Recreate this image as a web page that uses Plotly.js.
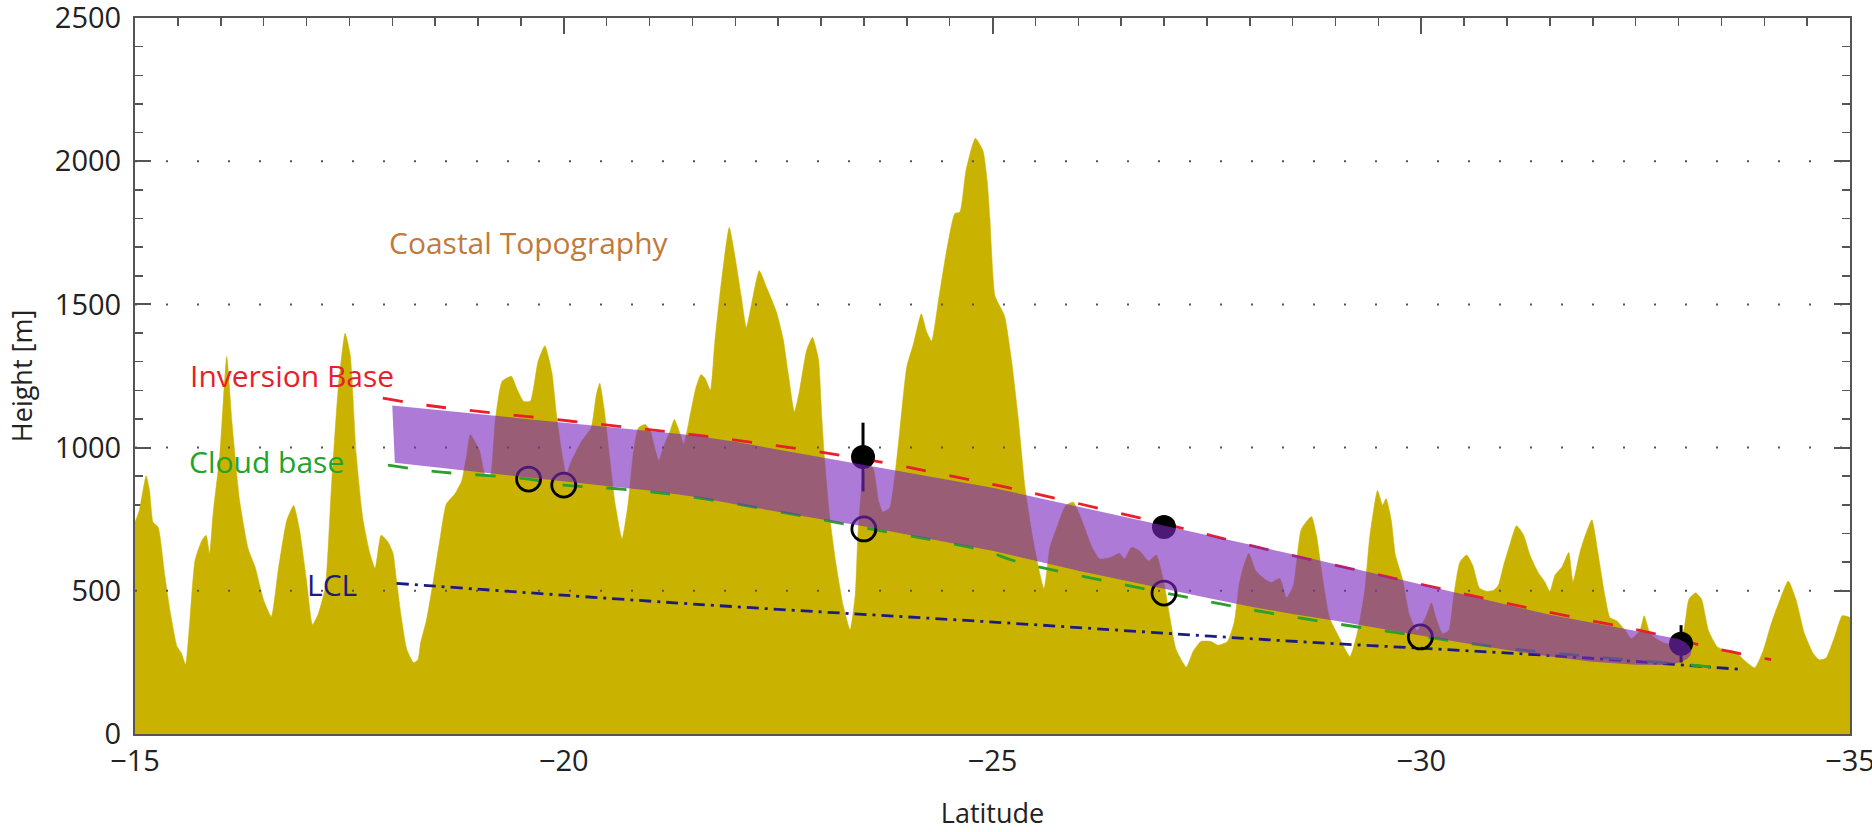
<!DOCTYPE html>
<html>
<head>
<meta charset="utf-8">
<script src="https://cdn.plot.ly/plotly-3.0.1.min.js"></script>
<style>html,body{margin:0;padding:0;background:#fff;}#chart{width:1872px;height:832px;}</style>
</head>
<body>
<div id="chart"></div>
<script>
// Coastal topography profile (latitude, height in m)
const topoLat = [-15.00,-15.05,-15.13,-15.17,-15.21,-15.27,-15.35,-15.41,-15.49,-15.54,-15.59,-15.64,-15.70,-15.78,-15.83,-15.87,-15.91,-15.99,-16.07,-16.13,-16.22,-16.32,-16.40,-16.50,-16.59,-16.67,-16.77,-16.85,-16.92,-17.00,-17.07,-17.14,-17.22,-17.29,-17.37,-17.45,-17.51,-17.58,-17.66,-17.74,-17.80,-17.87,-17.95,-18.01,-18.05,-18.11,-18.17,-18.25,-18.30,-18.33,-18.40,-18.48,-18.56,-18.63,-18.73,-18.81,-18.87,-18.91,-18.96,-19.02,-19.08,-19.14,-19.20,-19.28,-19.39,-19.45,-19.53,-19.61,-19.70,-19.78,-19.86,-19.92,-19.98,-20.03,-20.09,-20.21,-20.32,-20.38,-20.42,-20.47,-20.54,-20.60,-20.68,-20.75,-20.81,-20.87,-20.95,-21.01,-21.07,-21.11,-21.16,-21.24,-21.29,-21.36,-21.40,-21.46,-21.54,-21.60,-21.65,-21.71,-21.76,-21.84,-21.93,-21.99,-22.07,-22.13,-22.19,-22.28,-22.37,-22.48,-22.56,-22.62,-22.69,-22.75,-22.83,-22.90,-22.97,-23.01,-23.04,-23.10,-23.18,-23.26,-23.34,-23.40,-23.43,-23.49,-23.55,-23.61,-23.67,-23.72,-23.80,-23.86,-23.92,-24.00,-24.08,-24.17,-24.23,-24.29,-24.37,-24.46,-24.56,-24.62,-24.69,-24.80,-24.89,-24.94,-24.97,-25.03,-25.14,-25.22,-25.30,-25.38,-25.48,-25.60,-25.67,-25.75,-25.85,-25.94,-26.04,-26.16,-26.25,-26.39,-26.48,-26.54,-26.62,-26.72,-26.82,-26.91,-26.99,-27.07,-27.14,-27.26,-27.34,-27.43,-27.55,-27.63,-27.74,-27.82,-27.88,-27.94,-27.99,-28.07,-28.17,-28.25,-28.35,-28.43,-28.51,-28.60,-28.72,-28.78,-28.85,-28.93,-29.04,-29.17,-29.26,-29.34,-29.40,-29.49,-29.55,-29.59,-29.65,-29.70,-29.78,-29.86,-29.95,-30.05,-30.12,-30.17,-30.25,-30.32,-30.38,-30.45,-30.53,-30.60,-30.68,-30.77,-30.85,-30.90,-30.96,-31.04,-31.11,-31.19,-31.27,-31.36,-31.44,-31.50,-31.56,-31.64,-31.72,-31.77,-31.85,-31.91,-31.99,-32.06,-32.14,-32.20,-32.28,-32.38,-32.45,-32.55,-32.60,-32.67,-32.77,-32.85,-32.96,-33.06,-33.12,-33.20,-33.27,-33.35,-33.45,-33.54,-33.66,-33.76,-33.89,-33.99,-34.08,-34.16,-34.28,-34.37,-34.47,-34.57,-34.64,-34.72,-34.82,-34.91,-35.00];
const topoHeight = [740,780,902,850,740,722,549,428,306,283,243,399,607,676,694,630,769,977,1318,1092,815,647,584,468,410,572,746,798,711,537,382,422,514,861,1208,1399,1324,977,746,630,578,694,671,630,537,399,295,249,260,318,399,537,688,803,838,884,977,1046,1023,988,907,896,1092,1231,1249,1208,1162,1162,1301,1356,1266,1104,977,907,954,1023,1069,1185,1225,1139,954,803,682,803,977,1069,1081,1058,988,954,1000,1058,1098,1046,1012,1092,1208,1255,1241,1200,1364,1584,1769,1680,1529,1419,1501,1618,1556,1474,1378,1255,1125,1200,1337,1385,1310,1104,967,762,584,447,364,488,693,899,940,926,816,775,789,899,1063,1282,1364,1467,1406,1371,1515,1680,1817,1823,1967,2080,2036,1926,1800,1529,1460,1310,1104,858,666,508,652,721,796,810,748,652,611,618,631,611,652,638,604,625,542,406,296,234,289,323,323,310,323,392,529,597,631,570,542,529,543,475,520,714,759,691,543,407,339,271,361,498,691,850,799,822,748,623,543,418,361,407,458,407,350,361,486,600,625,589,509,498,503,520,589,668,727,697,623,566,532,498,555,583,634,532,634,691,748,634,486,407,395,361,333,361,413,350,327,316,316,361,470,493,470,361,305,293,288,259,231,293,384,450,534,470,350,282,259,265,339,413,407];

// Inversion base (red dashed)
const invLat = [-17.89,-18.42,-20.09,-21.65,-23.50,-24.78,-25.22,-27.00,-28.29,-29.86,-31.33,-32.73,-33.40,-34.08];
const invHeight = [1173,1147,1092,1040,960,885,858,734,638,532,435,350,300,260];

// Cloud base (green dashed)
const cbLat = [-17.95,-18.48,-19.59,-20.01,-20.67,-21.62,-23.49,-24.93,-25.26,-26.99,-28.30,-29.98,-31.00,-32.00,-33.10,-33.65];
const cbHeight = [939,917,890,869,855,822,721,638,604,494,419,342,299,270,242,226];

// Lifting condensation level (blue dash-dot)
const lclLat = [-18.05,-21.60,-24.94,-28.27,-31.60,-33.70];
const lclHeight = [526,452,392,328,272,226];

// Cloud layer band: upper edge west->east, rounded tip, lower edge back
const bandLat = [-18.00,-18.50,-19.00,-19.50,-20.00,-20.50,-21.00,-21.50,-22.00,-22.50,-23.00,-23.50,-24.00,-24.50,-25.00,-25.50,-26.00,-26.50,-27.00,-27.50,-28.00,-28.50,-29.00,-29.50,-30.00,-30.50,-31.00,-31.50,-32.00,-32.50,-32.80,-33.00,-33.08,-33.13,-33.15,-33.14,-33.10,-33.04,-32.95,-32.80,-32.50,-32.00,-31.50,-31.00,-30.50,-30.00,-29.50,-29.00,-28.50,-28.00,-27.50,-27.00,-26.50,-26.00,-25.50,-25.00,-24.50,-24.00,-23.50,-23.00,-22.50,-22.00,-21.50,-21.00,-20.50,-20.00,-19.50,-19.00,-18.50,-18.03,-18.00];
const bandHeight = [1147,1133,1117,1102,1087,1073,1058,1043,1020,993,967,940,913,887,860,827,794,762,729,696,663,628,593,557,522,486,451,416,388,362,345,332,320,305,290,275,262,252,245,241,242,252,271,293,318,344,370,395,419,445,476,507,538,570,605,640,668,697,725,750,775,802,829,850,866,882,898,914,930,947,1147];

// Observations: inversion base (filled, with error bars) and cloud base (open)
const invObsLat = [-23.49,-27.00,-33.03];
const invObsHeight = [967,723,315];
const invObsErr = [120,0,65];
const cbObsLat = [-19.59,-20.00,-23.50,-27.00,-29.99];
const cbObsHeight = [890,869,716,492,339];

// Axis ticks / grid
const gridHeights = [500,1000,1500,2000];
const xTicks = [-15,-20,-25,-30,-35];
const yTicks = [0,500,1000,1500,2000,2500];

const FONT = '"Open Sans", "Noto Sans", sans-serif';
const traces = [];

traces.push({x: topoLat, y: topoHeight, type: 'scatter', mode: 'lines', fill: 'tozeroy',
  fillcolor: '#CAB300', line: {color: '#CAB300', width: 0.5, shape: 'spline', smoothing: 0.5}, hoverinfo: 'skip', showlegend: false});

gridHeights.forEach(h => traces.push({x: [-15, -35], y: [h, h], type: 'scatter', mode: 'lines',
  line: {color: '#555', width: 2, dash: '2px,29px'}, hoverinfo: 'skip', showlegend: false}));

traces.push({x: lclLat, y: lclHeight, type: 'scatter', mode: 'lines', line: {color: '#1c1c80', width: 2.8, dash: '12px,6px,3px,6px', shape: 'spline'}, hoverinfo: 'skip', showlegend: false});
traces.push({x: cbLat, y: cbHeight, type: 'scatter', mode: 'lines', line: {color: '#2ca02c', width: 2.8, dash: '20px,24px', shape: 'spline'}, hoverinfo: 'skip', showlegend: false});
traces.push({x: invLat, y: invHeight, type: 'scatter', mode: 'lines', line: {color: '#e8202a', width: 2.8, dash: '20px,24px', shape: 'spline'}, hoverinfo: 'skip', showlegend: false});

traces.push({x: invObsLat, y: invObsHeight, type: 'scatter', mode: 'markers',
  marker: {symbol: 'circle', size: 24, color: '#000'},
  error_y: {type: 'data', array: invObsErr, visible: true, color: '#000', thickness: 3, width: 0},
  hoverinfo: 'skip', showlegend: false});
traces.push({x: cbObsLat, y: cbObsHeight, type: 'scatter', mode: 'markers',
  marker: {symbol: 'circle-open', size: 24, color: '#000', line: {width: 2.8, color: '#000'}},
  hoverinfo: 'skip', showlegend: false});

traces.push({x: bandLat, y: bandHeight, type: 'scatter', mode: 'lines', fill: 'toself',
  fillcolor: 'rgba(125,40,190,0.62)', line: {width: 0},
  hoverinfo: 'skip', showlegend: false});

const annFont = (c) => ({family: FONT, size: 30, color: c});
const layout = {
  width: 1872, height: 832,
  margin: {l: 135, r: 22, t: 18, b: 98},
  paper_bgcolor: '#fff', plot_bgcolor: '#fff',
  showlegend: false,
  font: {family: FONT, color: '#222'},
  xaxis: {
    range: [-15, -35], autorange: false,
    tickvals: xTicks, ticktext: xTicks.map(v => '\u2212' + Math.abs(v)),
    ticks: 'inside', ticklen: 16, tickwidth: 2, tickcolor: '#555',
    minor: {dtick: 0.5, tick0: -15, ticks: 'inside', ticklen: 8, tickwidth: 1.5, tickcolor: '#555', showgrid: false},
    showline: true, linecolor: '#555', linewidth: 2, mirror: 'allticks',
    showgrid: false, zeroline: false, layer: 'below traces',
    ticklabeloverflow: 'allow',
    tickfont: {family: FONT, size: 29, color: '#222'},
    title: {text: 'Latitude', font: {family: FONT, size: 27, color: '#222'}, standoff: 26}
  },
  yaxis: {
    range: [0, 2500], autorange: false,
    tickvals: yTicks,
    ticks: 'inside', ticklen: 16, tickwidth: 2, tickcolor: '#555',
    minor: {dtick: 100, tick0: 0, ticks: 'inside', ticklen: 8, tickwidth: 1.5, tickcolor: '#555', showgrid: false},
    showline: true, linecolor: '#555', linewidth: 2, mirror: 'allticks',
    showgrid: false, zeroline: false, layer: 'below traces',
    ticklabeloverflow: 'allow', ticklabelstandoff: 6,
    tickfont: {family: FONT, size: 29, color: '#222'},
    title: {text: 'Height [m]', font: {family: FONT, size: 27, color: '#222'}, standoff: 14}
  },
  annotations: [
    {x: -19.59, y: 1715, text: 'Coastal Topography', showarrow: false, xanchor: 'center', yanchor: 'middle', font: annFont('#c07a3c')},
    {x: -16.83, y: 1252, text: 'Inversion Base', showarrow: false, xanchor: 'center', yanchor: 'middle', font: annFont('#e8202a')},
    {x: -16.53, y: 952, text: 'Cloud base', showarrow: false, xanchor: 'center', yanchor: 'middle', font: annFont('#22a32a')},
    {x: -17.30, y: 523, text: 'LCL', showarrow: false, xanchor: 'center', yanchor: 'middle', font: annFont('#1c1c80')}
  ]
};

Plotly.newPlot('chart', traces, layout, {displayModeBar: false, staticPlot: true});
</script>
</body>
</html>
